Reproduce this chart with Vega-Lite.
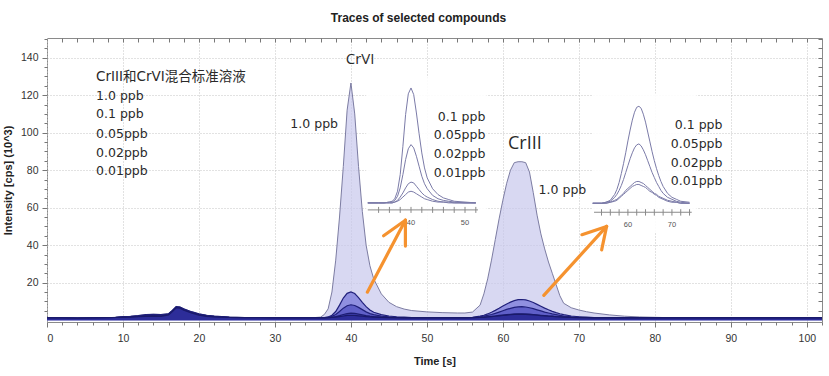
{
  "$schema": "https://vega.github.io/schema/vega-lite/v6.json",
  "width": 775,
  "height": 284,
  "autosize": {"type": "none"},
  "padding": {"left": 47, "top": 38, "right": 7, "bottom": 54},
  "background": "white",
  "title": {"text": "Traces of selected compounds", "font": "Liberation Sans Narrow, Liberation Sans, Arial, sans-serif", "fontSize": 12, "fontWeight": "bold", "color": "#222222", "offset": 13, "dx": -16},
  "config": {
    "view": {"stroke": "#8a8a8a", "strokeWidth": 1},
    "axis": {"labelFont": "Liberation Sans Narrow, Liberation Sans, Arial, sans-serif", "labelFontSize": 10.5, "labelColor": "#333333", "titleFont": "Liberation Sans Narrow, Liberation Sans, Arial, sans-serif", "titleFontSize": 11, "titleFontWeight": "bold", "titleColor": "#222222", "tickColor": "#777777", "domain": false, "gridColor": "#c4c4c4", "gridDash": [1, 2], "gridWidth": 1},
    "text": {"font": "DejaVu Sans", "color": "#2a2a2a"}
  },
  "datasets": {
    "trace": [
      {"t": 0, "c1_0": 1.2, "c0_1": 1.2, "c0_05": 1.2, "c0_02": 1.2, "c0_01": 1.2},
      {"t": 2, "c1_0": 1.2, "c0_1": 1.2, "c0_05": 1.2, "c0_02": 1.2, "c0_01": 1.2},
      {"t": 4, "c1_0": 1.1, "c0_1": 1.1, "c0_05": 1.1, "c0_02": 1.1, "c0_01": 1.1},
      {"t": 6, "c1_0": 1.2, "c0_1": 1.2, "c0_05": 1.2, "c0_02": 1.2, "c0_01": 1.2},
      {"t": 8, "c1_0": 1.3, "c0_1": 1.3, "c0_05": 1.3, "c0_02": 1.3, "c0_01": 1.3},
      {"t": 9, "c1_0": 1.5, "c0_1": 1.5, "c0_05": 1.4, "c0_02": 1.4, "c0_01": 1.4},
      {"t": 10, "c1_0": 1.8, "c0_1": 1.8, "c0_05": 1.7, "c0_02": 1.6, "c0_01": 1.5},
      {"t": 11, "c1_0": 2.0, "c0_1": 2.0, "c0_05": 1.9, "c0_02": 1.7, "c0_01": 1.6},
      {"t": 12, "c1_0": 2.4, "c0_1": 2.4, "c0_05": 2.2, "c0_02": 2.0, "c0_01": 1.8},
      {"t": 13, "c1_0": 2.9, "c0_1": 2.9, "c0_05": 2.6, "c0_02": 2.3, "c0_01": 2.0},
      {"t": 14, "c1_0": 3.1, "c0_1": 3.1, "c0_05": 2.7, "c0_02": 2.4, "c0_01": 2.1},
      {"t": 15, "c1_0": 3.0, "c0_1": 3.0, "c0_05": 2.6, "c0_02": 2.3, "c0_01": 2.0},
      {"t": 16, "c1_0": 3.4, "c0_1": 3.4, "c0_05": 3.2, "c0_02": 3.0, "c0_01": 2.8},
      {"t": 16.5, "c1_0": 5.2, "c0_1": 5.2, "c0_05": 5.0, "c0_02": 4.8, "c0_01": 4.6},
      {"t": 17, "c1_0": 7.2, "c0_1": 7.2, "c0_05": 7.0, "c0_02": 6.8, "c0_01": 6.6},
      {"t": 17.5, "c1_0": 7.0, "c0_1": 7.0, "c0_05": 6.8, "c0_02": 6.6, "c0_01": 6.4},
      {"t": 18, "c1_0": 6.0, "c0_1": 6.0, "c0_05": 5.7, "c0_02": 5.5, "c0_01": 5.3},
      {"t": 19, "c1_0": 4.5, "c0_1": 4.5, "c0_05": 4.2, "c0_02": 4.0, "c0_01": 3.8},
      {"t": 20, "c1_0": 3.3, "c0_1": 3.3, "c0_05": 3.1, "c0_02": 2.9, "c0_01": 2.7},
      {"t": 21, "c1_0": 2.6, "c0_1": 2.6, "c0_05": 2.4, "c0_02": 2.2, "c0_01": 2.0},
      {"t": 22, "c1_0": 2.1, "c0_1": 2.1, "c0_05": 2.0, "c0_02": 1.8, "c0_01": 1.7},
      {"t": 24, "c1_0": 1.6, "c0_1": 1.6, "c0_05": 1.5, "c0_02": 1.4, "c0_01": 1.4},
      {"t": 26, "c1_0": 1.4, "c0_1": 1.4, "c0_05": 1.3, "c0_02": 1.3, "c0_01": 1.3},
      {"t": 28, "c1_0": 1.3, "c0_1": 1.3, "c0_05": 1.3, "c0_02": 1.3, "c0_01": 1.3},
      {"t": 30, "c1_0": 1.2, "c0_1": 1.2, "c0_05": 1.2, "c0_02": 1.2, "c0_01": 1.2},
      {"t": 32, "c1_0": 1.2, "c0_1": 1.2, "c0_05": 1.2, "c0_02": 1.2, "c0_01": 1.2},
      {"t": 34, "c1_0": 1.2, "c0_1": 1.2, "c0_05": 1.2, "c0_02": 1.2, "c0_01": 1.2},
      {"t": 35, "c1_0": 1.3, "c0_1": 1.2, "c0_05": 1.2, "c0_02": 1.2, "c0_01": 1.2},
      {"t": 36, "c1_0": 1.6, "c0_1": 1.3, "c0_05": 1.3, "c0_02": 1.2, "c0_01": 1.2},
      {"t": 36.5, "c1_0": 3.0, "c0_1": 1.4, "c0_05": 1.3, "c0_02": 1.2, "c0_01": 1.2},
      {"t": 37, "c1_0": 6.0, "c0_1": 1.7, "c0_05": 1.5, "c0_02": 1.3, "c0_01": 1.3},
      {"t": 37.5, "c1_0": 15, "c0_1": 2.6, "c0_05": 2.0, "c0_02": 1.5, "c0_01": 1.4},
      {"t": 38, "c1_0": 32, "c0_1": 4.6, "c0_05": 3.0, "c0_02": 1.9, "c0_01": 1.6},
      {"t": 38.5, "c1_0": 55, "c0_1": 8.0, "c0_05": 4.6, "c0_02": 2.4, "c0_01": 1.9},
      {"t": 39, "c1_0": 82, "c0_1": 11.8, "c0_05": 6.4, "c0_02": 3.0, "c0_01": 2.2},
      {"t": 39.5, "c1_0": 112, "c0_1": 14.3, "c0_05": 7.7, "c0_02": 3.5, "c0_01": 2.5},
      {"t": 40, "c1_0": 126.5, "c0_1": 15.0, "c0_05": 8.2, "c0_02": 3.7, "c0_01": 2.6},
      {"t": 40.5, "c1_0": 110, "c0_1": 14.2, "c0_05": 7.8, "c0_02": 3.6, "c0_01": 2.5},
      {"t": 41, "c1_0": 82, "c0_1": 12.0, "c0_05": 6.8, "c0_02": 3.2, "c0_01": 2.3},
      {"t": 41.5, "c1_0": 58, "c0_1": 9.5, "c0_05": 5.6, "c0_02": 2.8, "c0_01": 2.1},
      {"t": 42, "c1_0": 40, "c0_1": 7.2, "c0_05": 4.4, "c0_02": 2.4, "c0_01": 1.9},
      {"t": 42.5, "c1_0": 29, "c0_1": 5.4, "c0_05": 3.5, "c0_02": 2.1, "c0_01": 1.7},
      {"t": 43, "c1_0": 22, "c0_1": 4.2, "c0_05": 2.9, "c0_02": 1.9, "c0_01": 1.6},
      {"t": 44, "c1_0": 14, "c0_1": 2.9, "c0_05": 2.1, "c0_02": 1.6, "c0_01": 1.4},
      {"t": 45, "c1_0": 9.5, "c0_1": 2.2, "c0_05": 1.7, "c0_02": 1.4, "c0_01": 1.3},
      {"t": 46, "c1_0": 7.2, "c0_1": 1.8, "c0_05": 1.5, "c0_02": 1.3, "c0_01": 1.3},
      {"t": 47, "c1_0": 5.9, "c0_1": 1.6, "c0_05": 1.4, "c0_02": 1.3, "c0_01": 1.2},
      {"t": 48, "c1_0": 5.1, "c0_1": 1.4, "c0_05": 1.3, "c0_02": 1.2, "c0_01": 1.2},
      {"t": 50, "c1_0": 4.4, "c0_1": 1.3, "c0_05": 1.2, "c0_02": 1.2, "c0_01": 1.2},
      {"t": 52, "c1_0": 4.0, "c0_1": 1.2, "c0_05": 1.2, "c0_02": 1.2, "c0_01": 1.2},
      {"t": 54, "c1_0": 3.8, "c0_1": 1.2, "c0_05": 1.2, "c0_02": 1.2, "c0_01": 1.2},
      {"t": 55, "c1_0": 3.8, "c0_1": 1.3, "c0_05": 1.3, "c0_02": 1.2, "c0_01": 1.2},
      {"t": 56, "c1_0": 4.3, "c0_1": 1.5, "c0_05": 1.4, "c0_02": 1.3, "c0_01": 1.3},
      {"t": 57, "c1_0": 8, "c0_1": 2.1, "c0_05": 1.8, "c0_02": 1.5, "c0_01": 1.4},
      {"t": 57.5, "c1_0": 14, "c0_1": 2.6, "c0_05": 2.1, "c0_02": 1.6, "c0_01": 1.5},
      {"t": 58, "c1_0": 22, "c0_1": 3.3, "c0_05": 2.5, "c0_02": 1.8, "c0_01": 1.7},
      {"t": 58.5, "c1_0": 32, "c0_1": 4.2, "c0_05": 3.0, "c0_02": 2.0, "c0_01": 1.9},
      {"t": 59, "c1_0": 43, "c0_1": 5.2, "c0_05": 3.6, "c0_02": 2.2, "c0_01": 2.1},
      {"t": 59.5, "c1_0": 54, "c0_1": 6.3, "c0_05": 4.3, "c0_02": 2.5, "c0_01": 2.3},
      {"t": 60, "c1_0": 64, "c0_1": 7.5, "c0_05": 5.0, "c0_02": 2.7, "c0_01": 2.5},
      {"t": 60.5, "c1_0": 73, "c0_1": 8.6, "c0_05": 5.7, "c0_02": 2.9, "c0_01": 2.7},
      {"t": 61, "c1_0": 80, "c0_1": 9.6, "c0_05": 6.3, "c0_02": 3.1, "c0_01": 2.9},
      {"t": 61.5, "c1_0": 84, "c0_1": 10.4, "c0_05": 6.8, "c0_02": 3.3, "c0_01": 3.0},
      {"t": 62, "c1_0": 84.5, "c0_1": 10.9, "c0_05": 7.1, "c0_02": 3.4, "c0_01": 3.1},
      {"t": 62.5, "c1_0": 84.5, "c0_1": 11.0, "c0_05": 7.2, "c0_02": 3.4, "c0_01": 3.1},
      {"t": 63, "c1_0": 84, "c0_1": 10.8, "c0_05": 7.0, "c0_02": 3.3, "c0_01": 3.0},
      {"t": 63.5, "c1_0": 79, "c0_1": 10.2, "c0_05": 6.6, "c0_02": 3.2, "c0_01": 2.9},
      {"t": 64, "c1_0": 68, "c0_1": 9.4, "c0_05": 6.1, "c0_02": 3.0, "c0_01": 2.8},
      {"t": 64.5, "c1_0": 56, "c0_1": 8.4, "c0_05": 5.5, "c0_02": 2.8, "c0_01": 2.6},
      {"t": 65, "c1_0": 46, "c0_1": 7.4, "c0_05": 4.9, "c0_02": 2.6, "c0_01": 2.4},
      {"t": 65.5, "c1_0": 38, "c0_1": 6.4, "c0_05": 4.3, "c0_02": 2.4, "c0_01": 2.3},
      {"t": 66, "c1_0": 31, "c0_1": 5.5, "c0_05": 3.8, "c0_02": 2.2, "c0_01": 2.1},
      {"t": 66.5, "c1_0": 25, "c0_1": 4.7, "c0_05": 3.3, "c0_02": 2.1, "c0_01": 2.0},
      {"t": 67, "c1_0": 19, "c0_1": 4.0, "c0_05": 2.9, "c0_02": 1.9, "c0_01": 1.8},
      {"t": 67.5, "c1_0": 13, "c0_1": 3.4, "c0_05": 2.5, "c0_02": 1.8, "c0_01": 1.7},
      {"t": 68, "c1_0": 9, "c0_1": 2.9, "c0_05": 2.2, "c0_02": 1.7, "c0_01": 1.6},
      {"t": 69, "c1_0": 6.6, "c0_1": 2.2, "c0_05": 1.8, "c0_02": 1.5, "c0_01": 1.4},
      {"t": 70, "c1_0": 5.4, "c0_1": 1.8, "c0_05": 1.6, "c0_02": 1.4, "c0_01": 1.3},
      {"t": 71, "c1_0": 4.5, "c0_1": 1.6, "c0_05": 1.4, "c0_02": 1.3, "c0_01": 1.3},
      {"t": 72, "c1_0": 3.8, "c0_1": 1.4, "c0_05": 1.3, "c0_02": 1.2, "c0_01": 1.2},
      {"t": 74, "c1_0": 2.8, "c0_1": 1.3, "c0_05": 1.2, "c0_02": 1.2, "c0_01": 1.2},
      {"t": 76, "c1_0": 2.1, "c0_1": 1.2, "c0_05": 1.2, "c0_02": 1.2, "c0_01": 1.2},
      {"t": 78, "c1_0": 1.7, "c0_1": 1.2, "c0_05": 1.2, "c0_02": 1.2, "c0_01": 1.2},
      {"t": 80, "c1_0": 1.5, "c0_1": 1.3, "c0_05": 1.2, "c0_02": 1.2, "c0_01": 1.2},
      {"t": 82, "c1_0": 1.3, "c0_1": 1.2, "c0_05": 1.2, "c0_02": 1.2, "c0_01": 1.2},
      {"t": 85, "c1_0": 1.2, "c0_1": 1.2, "c0_05": 1.2, "c0_02": 1.2, "c0_01": 1.2},
      {"t": 90, "c1_0": 1.2, "c0_1": 1.3, "c0_05": 1.2, "c0_02": 1.2, "c0_01": 1.2},
      {"t": 95, "c1_0": 1.2, "c0_1": 1.2, "c0_05": 1.2, "c0_02": 1.2, "c0_01": 1.2},
      {"t": 100, "c1_0": 1.2, "c0_1": 1.2, "c0_05": 1.2, "c0_02": 1.2, "c0_01": 1.2},
      {"t": 102, "c1_0": 1.2, "c0_1": 1.2, "c0_05": 1.2, "c0_02": 1.2, "c0_01": 1.2}
    ],
    "notes": [
      {"t": 6.46, "intensity": 129.6, "label": "CrIII和CrVI混合标准溶液", "group": "heading"},
      {"t": 6.46, "intensity": 119.5, "label": "1.0 ppb", "group": "left"},
      {"t": 6.46, "intensity": 109.7, "label": "0.1 ppb", "group": "left"},
      {"t": 6.46, "intensity": 99.4, "label": "0.05ppb", "group": "left"},
      {"t": 6.46, "intensity": 89.2, "label": "0.02ppb", "group": "left"},
      {"t": 6.46, "intensity": 79.5, "label": "0.01ppb", "group": "left"},
      {"t": 64.7, "intensity": 69.2, "label": "1.0 ppb", "group": "left"},
      {"t": 38.3, "intensity": 104.4, "label": "1.0 ppb", "group": "right"},
      {"t": 57.7, "intensity": 108.3, "label": "0.1 ppb", "group": "right"},
      {"t": 57.7, "intensity": 98.7, "label": "0.05ppb", "group": "right"},
      {"t": 57.7, "intensity": 88.6, "label": "0.02ppb", "group": "right"},
      {"t": 57.7, "intensity": 78.4, "label": "0.01ppb", "group": "right"},
      {"t": 88.9, "intensity": 104.0, "label": "0.1 ppb", "group": "right"},
      {"t": 88.9, "intensity": 93.9, "label": "0.05ppb", "group": "right"},
      {"t": 88.9, "intensity": 83.8, "label": "0.02ppb", "group": "right"},
      {"t": 88.9, "intensity": 74.1, "label": "0.01ppb", "group": "right"},
      {"t": 41.2, "intensity": 139.4, "label": "CrVI", "group": "crvi"},
      {"t": 62.9, "intensity": 94.1, "label": "CrIII", "group": "criii"}
    ],
    "arrows": [
      {"seg": "a1", "t": 42.16, "intensity": 14.9},
      {"seg": "a1", "t": 47.17, "intensity": 53.3},
      {"seg": "a1h1", "t": 44.3, "intensity": 45.0},
      {"seg": "a1h1", "t": 47.17, "intensity": 53.3},
      {"seg": "a1h2", "t": 47.17, "intensity": 39.5},
      {"seg": "a1h2", "t": 47.17, "intensity": 53.3},
      {"seg": "a2", "t": 65.39, "intensity": 13.2},
      {"seg": "a2", "t": 73.65, "intensity": 50.0},
      {"seg": "a2h1", "t": 70.4, "intensity": 45.6},
      {"seg": "a2h1", "t": 73.65, "intensity": 50.0},
      {"seg": "a2h2", "t": 73.0, "intensity": 37.5},
      {"seg": "a2h2", "t": 73.65, "intensity": 50.0}
    ]
  },
  "layer": [
    {
      "data": {"name": "trace"},
      "transform": [{"fold": ["c1_0", "c0_1", "c0_05", "c0_02", "c0_01"], "as": ["series", "intensity"]}],
      "encoding": {
        "x": {"field": "t", "type": "quantitative", "scale": {"domain": [0, 102], "nice": false, "zero": false}, "axis": {"values": [0, 10, 20, 30, 40, 50, 60, 70, 80, 90, 100], "tickSize": 5, "labelPadding": 6, "titlePadding": 12, "grid": true}, "title": "Time [s]"},
        "y": {"field": "intensity", "type": "quantitative", "scale": {"domain": [-1, 150.5], "nice": false, "zero": false}, "axis": {"values": [20, 40, 60, 80, 100, 120, 140], "tickSize": 5, "labelPadding": 4, "titlePadding": 7, "grid": true}, "title": "Intensity [cps] (10^3)"}
      },
      "layer": [
        {"transform": [{"filter": "datum.series === 'c1_0'"}], "mark": {"type": "area", "color": "#c8c8ec", "line": {"color": "#7c7ca2", "strokeWidth": 1}}},
        {"transform": [{"filter": "datum.series === 'c0_1'"}], "mark": {"type": "area", "color": "#7272d8", "line": {"color": "#20207a", "strokeWidth": 1.2}}},
        {"transform": [{"filter": "datum.series === 'c0_05'"}], "mark": {"type": "area", "color": "#4a4abd", "line": {"color": "#20207a", "strokeWidth": 1.2}}},
        {"transform": [{"filter": "datum.series === 'c0_02'"}], "mark": {"type": "area", "color": "#3434a6", "line": {"color": "#1c1c72", "strokeWidth": 1.2}}},
        {"transform": [{"filter": "datum.series === 'c0_01'"}], "mark": {"type": "area", "color": "#25258f", "line": {"color": "#1a1a6a", "strokeWidth": 1.2}}}
      ]
    },
    {
      "encoding": {
        "x": {"field": "t", "type": "quantitative", "scale": {"domain": [-27.4, 116.1], "nice": false, "zero": false}, "axis": null},
        "y": {"field": "intensity", "type": "quantitative", "scale": {"domain": [-13.1, 21.0], "nice": false, "zero": false}, "axis": null}
      },
      "layer": [
        {
          "data": {"values": [{"t": 31.7, "t_end": 54, "intensity": -2.6, "intensity_end": 16.3}]},
          "mark": {"type": "rect", "color": "white", "opacity": 0.9},
          "encoding": {"x2": {"field": "t_end"}, "y2": {"field": "intensity_end"}}
        },
        {
          "data": {"name": "trace"},
          "transform": [{"filter": "datum.t >= 32 && datum.t <= 52.4"}, {"fold": ["c0_1", "c0_05", "c0_02", "c0_01"], "as": ["series", "intensity"]}],
          "mark": {"type": "line", "color": "#7b7ba8", "strokeWidth": 1},
          "encoding": {"detail": {"field": "series"}}
        },
        {
          "data": {"values": [{"t": 32, "t_end": 52.4, "intensity": 0.36}]},
          "mark": {"type": "rule", "color": "#8a8a8a", "strokeWidth": 1},
          "encoding": {"x2": {"field": "t_end"}}
        },
        {
          "data": {"values": [{"t": 34, "intensity": 0.0, "intensity_end": 0.72}, {"t": 36, "intensity": 0.0, "intensity_end": 0.72}, {"t": 38, "intensity": 0.0, "intensity_end": 0.72}, {"t": 40, "intensity": 0.0, "intensity_end": 0.72}, {"t": 42, "intensity": 0.0, "intensity_end": 0.72}, {"t": 44, "intensity": 0.0, "intensity_end": 0.72}, {"t": 46, "intensity": 0.0, "intensity_end": 0.72}, {"t": 48, "intensity": 0.0, "intensity_end": 0.72}, {"t": 50, "intensity": 0.0, "intensity_end": 0.72}, {"t": 52, "intensity": 0.0, "intensity_end": 0.72}]},
          "mark": {"type": "rule", "color": "#8a8a8a", "strokeWidth": 1},
          "encoding": {"y2": {"field": "intensity_end"}}
        },
        {
          "data": {"values": [{"t": 40, "intensity": -0.7, "label": "40"}, {"t": 50, "intensity": -0.7, "label": "50"}]},
          "mark": {"type": "text", "fontSize": 7.5, "baseline": "top", "color": "#555555", "font": "Liberation Sans"},
          "encoding": {"text": {"field": "label"}}
        }
      ]
    },
    {
      "encoding": {
        "x": {"field": "t", "type": "quantitative", "scale": {"domain": [-72, 104.1], "nice": false, "zero": false}, "axis": null},
        "y": {"field": "intensity", "type": "quantitative", "scale": {"domain": [-10.8, 17.9], "nice": false, "zero": false}, "axis": null}
      },
      "layer": [
        {
          "data": {"values": [{"t": 52, "t_end": 75.6, "intensity": -1.7, "intensity_end": 12.3}]},
          "mark": {"type": "rect", "color": "white", "opacity": 0.9},
          "encoding": {"x2": {"field": "t_end"}, "y2": {"field": "intensity_end"}}
        },
        {
          "data": {"name": "trace"},
          "transform": [{"filter": "datum.t >= 52 && datum.t <= 74.5"}, {"fold": ["c0_1", "c0_05", "c0_02", "c0_01"], "as": ["series", "intensity"]}],
          "mark": {"type": "line", "color": "#7b7ba8", "strokeWidth": 1},
          "encoding": {"detail": {"field": "series"}}
        },
        {
          "data": {"values": [{"t": 52.3, "t_end": 74.5, "intensity": 0.29}]},
          "mark": {"type": "rule", "color": "#8a8a8a", "strokeWidth": 1},
          "encoding": {"x2": {"field": "t_end"}}
        },
        {
          "data": {"values": [{"t": 54, "intensity": -0.05, "intensity_end": 0.6}, {"t": 56, "intensity": -0.05, "intensity_end": 0.6}, {"t": 58, "intensity": -0.05, "intensity_end": 0.6}, {"t": 60, "intensity": -0.05, "intensity_end": 0.6}, {"t": 62, "intensity": -0.05, "intensity_end": 0.6}, {"t": 64, "intensity": -0.05, "intensity_end": 0.6}, {"t": 66, "intensity": -0.05, "intensity_end": 0.6}, {"t": 68, "intensity": -0.05, "intensity_end": 0.6}, {"t": 70, "intensity": -0.05, "intensity_end": 0.6}, {"t": 72, "intensity": -0.05, "intensity_end": 0.6}, {"t": 74, "intensity": -0.05, "intensity_end": 0.6}]},
          "mark": {"type": "rule", "color": "#8a8a8a", "strokeWidth": 1},
          "encoding": {"y2": {"field": "intensity_end"}}
        },
        {
          "data": {"values": [{"t": 60, "intensity": -0.6, "label": "60"}, {"t": 70, "intensity": -0.6, "label": "70"}]},
          "mark": {"type": "text", "fontSize": 7.5, "baseline": "top", "color": "#555555", "font": "Liberation Sans"},
          "encoding": {"text": {"field": "label"}}
        }
      ]
    },
    {
      "encoding": {
        "x": {"field": "t", "type": "quantitative", "scale": {"domain": [0, 102], "nice": false, "zero": false}, "axis": null},
        "y": {"field": "intensity", "type": "quantitative", "scale": {"domain": [-1, 150.5], "nice": false, "zero": false}, "axis": null}
      },
      "layer": [
        {
          "data": {"name": "arrows"},
          "mark": {"type": "line", "color": "#f5922f", "strokeWidth": 3.2, "strokeCap": "round"},
          "encoding": {"detail": {"field": "seg"}}
        },
        {
          "data": {"name": "notes"},
          "transform": [{"filter": "datum.group === 'heading'"}],
          "mark": {"type": "text", "align": "left", "baseline": "middle", "fontSize": 13.5, "font": "DejaVu Sans, Noto Sans CJK SC"},
          "encoding": {"text": {"field": "label"}}
        },
        {
          "data": {"name": "notes"},
          "transform": [{"filter": "datum.group === 'left'"}],
          "mark": {"type": "text", "align": "left", "baseline": "middle", "fontSize": 12.5},
          "encoding": {"text": {"field": "label"}}
        },
        {
          "data": {"name": "notes"},
          "transform": [{"filter": "datum.group === 'right'"}],
          "mark": {"type": "text", "align": "right", "baseline": "middle", "fontSize": 12.5},
          "encoding": {"text": {"field": "label"}}
        },
        {
          "data": {"name": "notes"},
          "transform": [{"filter": "datum.group === 'crvi'"}],
          "mark": {"type": "text", "align": "center", "baseline": "middle", "fontSize": 15, "font": "Open Sans"},
          "encoding": {"text": {"field": "label"}}
        },
        {
          "data": {"name": "notes"},
          "transform": [{"filter": "datum.group === 'criii'"}],
          "mark": {"type": "text", "align": "center", "baseline": "middle", "fontSize": 18, "font": "Open Sans"},
          "encoding": {"text": {"field": "label"}}
        }
      ]
    },
    {
      "data": {"values": [{"t": 0, "intensity": 0}]},
      "mark": {"type": "point", "opacity": 0},
      "encoding": {
        "x": {"field": "t", "type": "quantitative", "scale": {"domain": [0, 102], "nice": false, "zero": false}, "axis": {"orient": "bottom", "values": [2, 4, 6, 8, 12, 14, 16, 18, 22, 24, 26, 28, 32, 34, 36, 38, 42, 44, 46, 48, 52, 54, 56, 58, 62, 64, 66, 68, 72, 74, 76, 78, 82, 84, 86, 88, 92, 94, 96, 98, 102], "labels": false, "tickSize": 3, "grid": false, "title": null}},
        "y": {"field": "intensity", "type": "quantitative", "scale": {"domain": [-1, 150.5], "nice": false, "zero": false}, "axis": {"orient": "left", "values": [5, 10, 15, 25, 30, 35, 45, 50, 55, 65, 70, 75, 85, 90, 95, 105, 110, 115, 125, 130, 135, 145, 150], "labels": false, "tickSize": 3, "grid": false, "title": null}}
      }
    },
    {
      "data": {"values": [{"t": 0, "intensity": 0}]},
      "mark": {"type": "point", "opacity": 0},
      "encoding": {
        "x": {"field": "t", "type": "quantitative", "scale": {"domain": [0, 102], "nice": false, "zero": false}, "axis": {"orient": "top", "values": [2, 4, 6, 8, 10, 12, 14, 16, 18, 20, 22, 24, 26, 28, 30, 32, 34, 36, 38, 40, 42, 44, 46, 48, 50, 52, 54, 56, 58, 60, 62, 64, 66, 68, 70, 72, 74, 76, 78, 80, 82, 84, 86, 88, 90, 92, 94, 96, 98, 100], "labels": false, "tickSize": -4, "grid": false, "title": null}},
        "y": {"field": "intensity", "type": "quantitative", "scale": {"domain": [-1, 150.5], "nice": false, "zero": false}, "axis": {"orient": "right", "values": [5, 10, 15, 20, 25, 30, 35, 40, 45, 50, 55, 60, 65, 70, 75, 80, 85, 90, 95, 100, 105, 110, 115, 120, 125, 130, 135, 140, 145, 150], "labels": false, "tickSize": -4, "grid": false, "title": null}}
      }
    }
  ],
  "resolve": {"scale": {"x": "independent", "y": "independent"}}
}
